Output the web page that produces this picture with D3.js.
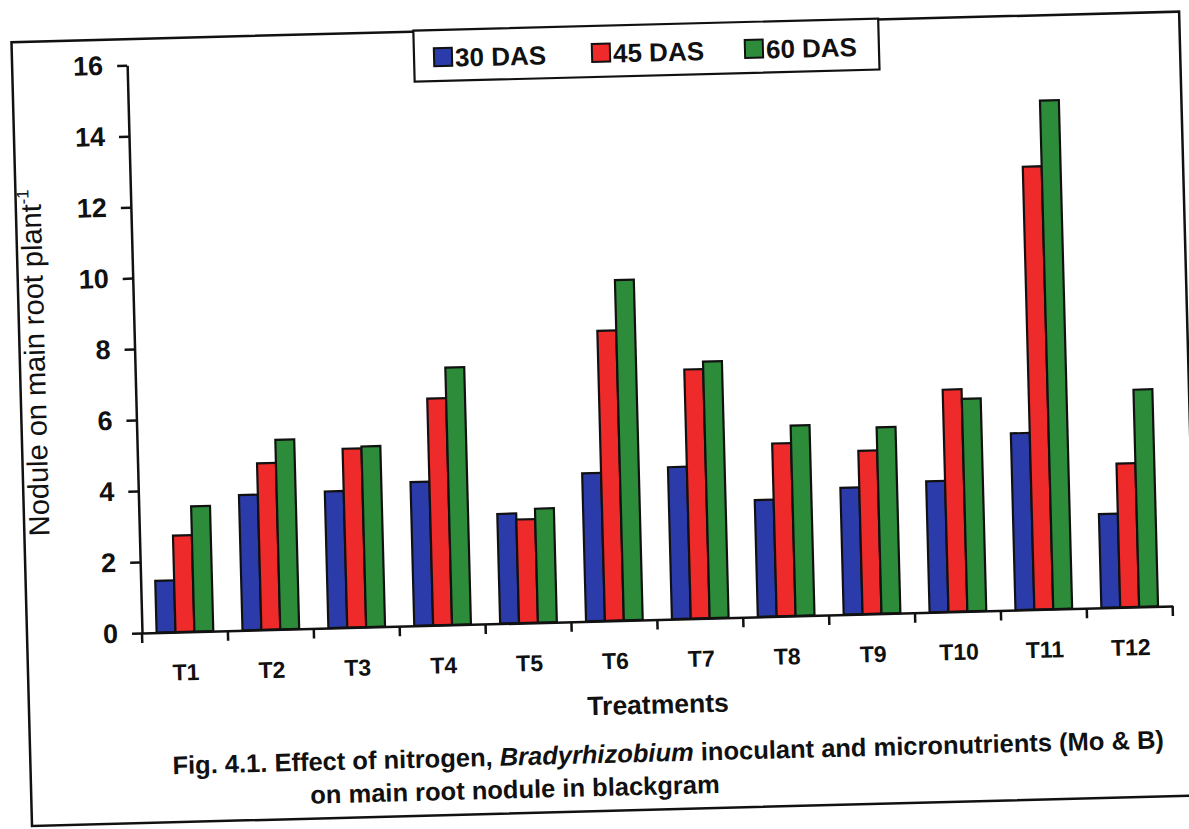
<!DOCTYPE html>
<html>
<head>
<meta charset="utf-8">
<script src="https://cdn.jsdelivr.net/npm/d3@7"></script>
<style>
  body { margin: 0; background: #fff; }
  text { font-family: "Liberation Sans", Arial, sans-serif; fill: #111; }
</style>
</head>
<body>
<svg id="chart" width="1189" height="829"></svg>
<script>
// data
const treatments = ["T1", "T2", "T3", "T4", "T5", "T6", "T7", "T8", "T9", "T10", "T11", "T12"];
const seriesNames = ["30 DAS", "45 DAS", "60 DAS"];
const das30 = [1.46, 3.81, 3.85, 4.05, 3.09, 4.17, 4.28, 3.29, 3.57, 3.69, 4.98, 2.64];
const das45 = [2.72, 4.69, 5.04, 6.39, 2.92, 8.17, 7.02, 4.87, 4.60, 6.26, 12.48, 4.05];
const das60 = [3.53, 5.34, 5.09, 7.25, 3.21, 9.59, 7.23, 5.36, 5.25, 5.99, 14.33, 6.12];
const yTicks = [0, 2, 4, 6, 8, 10, 12, 14, 16];
const seriesColors = ["#2b3caa", "#ee2a2a", "#2d8c3a"];

const svg = d3.select("#chart")

// the scan is tilted a little, so draw everything in a slightly rotated group
let body = svg.append("g")
    .attr("transform", "rotate(-1.5, 142, 633)")

let x = d3.scaleBand()
    .domain(treatments)
    .range([142, 1173])

let y = d3.scaleLinear()
    .domain([0, 16])
    .range([633, 65])

let bw = x.bandwidth()
let x1 = d3.scaleBand()
    .domain(seriesNames)
    .range([bw * 0.17, bw * 0.83])

let color = d3.scaleOrdinal()
    .domain(seriesNames)
    .range(seriesColors)

// outer frame
body.append("rect")
    .attr("x", 27).attr("y", 39)
    .attr("width", 1168).attr("height", 784)
    .attr("fill", "none")
    .attr("stroke", "#111")
    .attr("stroke-width", 2.5)

// bars
let rows = treatments.map((t, i) => ({
    treatment: t,
    values: [das30[i], das45[i], das60[i]]
}))

let groups = body.selectAll("g.group")
    .data(rows)
    .enter().append("g")
    .attr("class", "group")
    .attr("transform", d => `translate(${x(d.treatment)},0)`)

groups.selectAll("rect")
    .data(d => d.values.map((v, j) => ({ key: seriesNames[j], value: v })))
    .enter().append("rect")
    .attr("x", d => x1(d.key))
    .attr("y", d => y(d.value))
    .attr("width", x1.bandwidth())
    .attr("height", d => y(0) - y(d.value))
    .attr("fill", d => color(d.key))
    .attr("stroke", "#111")
    .attr("stroke-width", 2.2)

// y axis
let yAxis = body.append("g")
    .attr("transform", "translate(142,0)")
    .call(d3.axisLeft(y).tickValues(yTicks).tickSize(10).tickSizeOuter(0).tickPadding(14))
yAxis.select(".domain").attr("stroke", "#111").attr("stroke-width", 2.5)
yAxis.selectAll(".tick line").attr("stroke", "#111").attr("stroke-width", 2.5)
yAxis.selectAll(".tick text")
    .attr("font-size", 27)
    .attr("font-weight", "bold")
    .attr("font-family", "Liberation Sans, Arial, sans-serif")
    .attr("fill", "#111")

// x axis: labels at band centres, ticks at band edges
let xAxis = body.append("g")
    .attr("transform", "translate(0,633)")
    .call(d3.axisBottom(x).tickSize(0).tickPadding(32))
xAxis.select(".domain").attr("stroke", "#111").attr("stroke-width", 2.5)
xAxis.selectAll(".tick text")
    .attr("font-size", 23)
    .attr("font-weight", "bold")
    .attr("font-family", "Liberation Sans, Arial, sans-serif")
    .attr("fill", "#111")

let edges = treatments.map(t => x(t)).concat([x.range()[1]])
body.selectAll("line.edge")
    .data(edges)
    .enter().append("line")
    .attr("class", "edge")
    .attr("x1", d => d).attr("x2", d => d)
    .attr("y1", 633).attr("y2", 643)
    .attr("stroke", "#111")
    .attr("stroke-width", 2.5)

// axis titles
body.append("text")
    .attr("x", 656).attr("y", 727)
    .attr("text-anchor", "middle")
    .attr("font-size", 26.5)
    .attr("font-weight", "bold")
    .text("Treatments")

let yTitle = body.append("text")
    .attr("transform", "translate(52,360) rotate(-90)")
    .attr("text-anchor", "middle")
    .attr("font-size", 29)
yTitle.append("tspan").text("Nodule on main root plant")
yTitle.append("tspan").attr("dy", -12).attr("font-size", 17).text("-1")

// caption
let cap = body.append("text")
    .attr("x", 169).attr("y", 775)
    .attr("font-size", 25.5)
    .attr("font-weight", "bold")
cap.append("tspan").text("Fig. 4.1. Effect of nitrogen, ")
cap.append("tspan").attr("font-style", "italic").text("Bradyrhizobium")
cap.append("tspan").text(" inoculant and micronutrients (Mo & B)")

body.append("text")
    .attr("x", 306).attr("y", 808)
    .attr("font-size", 25.5)
    .attr("font-weight", "bold")
    .text("on main root nodule in blackgram")

// legend
let legend = body.append("g")
legend.append("rect")
    .attr("x", 429).attr("y", 38)
    .attr("width", 465).attr("height", 51)
    .attr("fill", "#fff")
    .attr("stroke", "#111")
    .attr("stroke-width", 2.2)

let legendX = [449, 607, 760]
let items = legend.selectAll("g.item")
    .data(seriesNames)
    .enter().append("g")
    .attr("class", "item")
    .attr("transform", (d, i) => `translate(${legendX[i]},56)`)
items.append("rect")
    .attr("width", 18).attr("height", 18)
    .attr("fill", d => color(d))
    .attr("stroke", "#111")
    .attr("stroke-width", 2)
items.append("text")
    .attr("x", 21).attr("y", 19)
    .attr("font-size", 26)
    .attr("font-weight", "bold")
    .text(d => d)
</script>
</body>
</html>
